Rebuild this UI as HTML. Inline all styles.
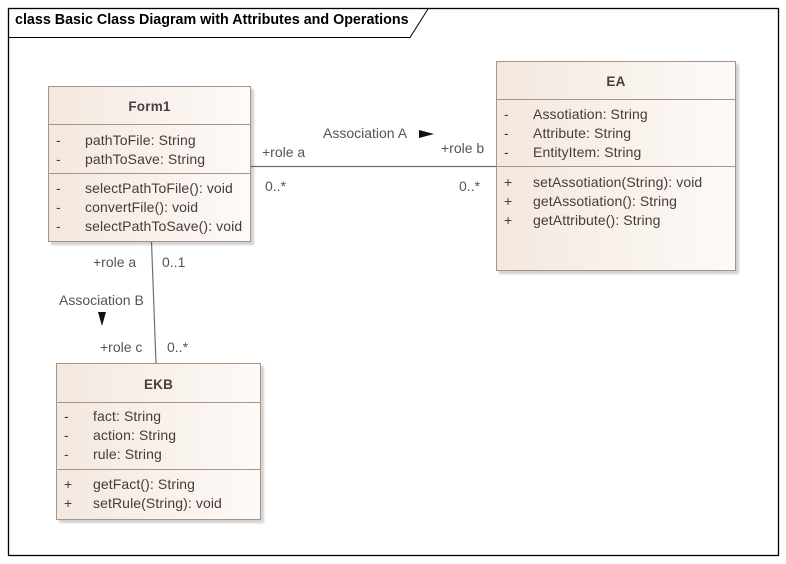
<!DOCTYPE html>
<html><head><meta charset="utf-8"><style>
html,body{margin:0;padding:0;background:#fff;}
body{width:786px;height:564px;position:relative;overflow:hidden;font-family:"Liberation Sans","DejaVu Sans",sans-serif;}
.box{position:absolute;border:1px solid #a89384;background:linear-gradient(to right,#f3e8df,#fdfaf8);box-shadow:3px 3px 2px rgba(0,0,0,0.18);box-sizing:border-box;}
.hd{position:absolute;left:0;right:0;top:0;text-align:center;font-weight:bold;font-size:13.5px;color:#4a4040;border-bottom:1px solid #a89384;box-sizing:border-box;letter-spacing:0.2px;}
.sec{position:absolute;left:0;right:0;box-sizing:border-box;}
.row{height:19px;line-height:19px;font-size:14px;color:#4a3a38;white-space:nowrap;position:relative;letter-spacing:0.1px;}
.row .v{position:absolute;left:7px;}
.row .t{position:absolute;left:36px;}
.lbl{position:absolute;font-size:14px;color:#555;white-space:nowrap;}
</style></head><body>
<svg width="786" height="564" style="position:absolute;left:0;top:0">
<rect x="8.5" y="8.5" width="770" height="547" fill="none" stroke="#000" stroke-width="1.3"/>
<polyline points="8.5,37.5 410,37.5 428,9" fill="none" stroke="#000" stroke-width="1"/>
<line x1="251" y1="166.5" x2="496" y2="166.5" stroke="#6a6f80" stroke-width="1.2"/>
<line x1="151.5" y1="242" x2="156" y2="363" stroke="#6a6f80" stroke-width="1.2"/>
<polygon points="419,130 434,134 419,138" fill="#111"/>
<polygon points="98,312 106,312 102,326" fill="#111"/>
</svg>
<div style="position:absolute;left:15px;top:12px;font-weight:bold;font-size:14.3px;color:#000;">class Basic Class Diagram with Attributes and Operations</div>

<div class="box" style="left:48px;top:86px;width:203px;height:156px;">
 <div class="hd" style="height:38px;line-height:40px;">Form1</div>
 <div class="sec" style="top:38px;height:49px;border-bottom:1px solid #a89384;padding-top:6px;">
  <div class="row"><span class="v">-</span><span class="t">pathToFile: String</span></div>
  <div class="row"><span class="v">-</span><span class="t">pathToSave: String</span></div>
 </div>
 <div class="sec" style="top:87px;padding-top:5px;">
  <div class="row"><span class="v">-</span><span class="t">selectPathToFile(): void</span></div>
  <div class="row"><span class="v">-</span><span class="t">convertFile(): void</span></div>
  <div class="row"><span class="v">-</span><span class="t">selectPathToSave(): void</span></div>
 </div>
</div>

<div class="box" style="left:496px;top:61px;width:240px;height:210px;">
 <div class="hd" style="height:38px;line-height:40px;">EA</div>
 <div class="sec" style="top:38px;height:67px;border-bottom:1px solid #a89384;padding-top:5px;">
  <div class="row"><span class="v">-</span><span class="t">Assotiation: String</span></div>
  <div class="row"><span class="v">-</span><span class="t">Attribute: String</span></div>
  <div class="row"><span class="v">-</span><span class="t">EntityItem: String</span></div>
 </div>
 <div class="sec" style="top:105px;padding-top:6px;">
  <div class="row"><span class="v">+</span><span class="t">setAssotiation(String): void</span></div>
  <div class="row"><span class="v">+</span><span class="t">getAssotiation(): String</span></div>
  <div class="row"><span class="v">+</span><span class="t">getAttribute(): String</span></div>
 </div>
</div>

<div class="box" style="left:56px;top:363px;width:205px;height:157px;">
 <div class="hd" style="height:39px;line-height:41px;">EKB</div>
 <div class="sec" style="top:39px;height:67px;border-bottom:1px solid #a89384;padding-top:4px;">
  <div class="row"><span class="v">-</span><span class="t">fact: String</span></div>
  <div class="row"><span class="v">-</span><span class="t">action: String</span></div>
  <div class="row"><span class="v">-</span><span class="t">rule: String</span></div>
 </div>
 <div class="sec" style="top:106px;padding-top:5px;">
  <div class="row"><span class="v">+</span><span class="t">getFact(): String</span></div>
  <div class="row"><span class="v">+</span><span class="t">setRule(String): void</span></div>
 </div>
</div>

<div class="lbl" style="left:323px;top:125px;">Association A</div>
<div class="lbl" style="left:262px;top:144px;">+role a</div>
<div class="lbl" style="left:441px;top:140px;">+role b</div>
<div class="lbl" style="left:265px;top:178px;">0..*</div>
<div class="lbl" style="left:459px;top:178px;">0..*</div>
<div class="lbl" style="left:93px;top:254px;">+role a</div>
<div class="lbl" style="left:162px;top:254px;">0..1</div>
<div class="lbl" style="left:59px;top:292px;">Association B</div>
<div class="lbl" style="left:100px;top:339px;">+role c</div>
<div class="lbl" style="left:167px;top:339px;">0..*</div>
</body></html>
